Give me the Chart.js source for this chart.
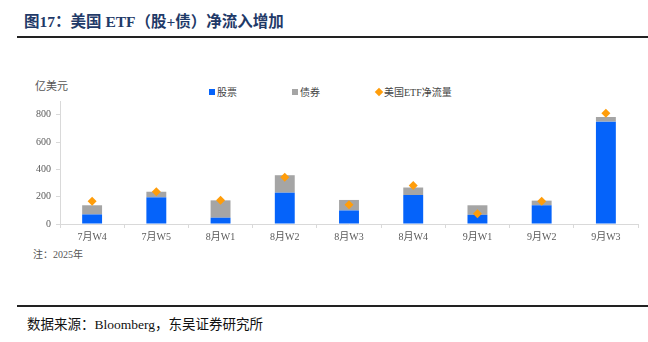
<!DOCTYPE html>
<html>
<head>
<meta charset="utf-8">
<script src="https://cdn.jsdelivr.net/npm/chart.js@4"></script>
<style>
  body { margin:0; width:648px; height:342px; background:#fff; position:relative; overflow:hidden; font-family:'Liberation Serif','Noto Sans CJK SC',serif; }
  #title { position:absolute; left:24px; top:9px; font-size:15.5px; font-weight:bold; color:#1f3a68; }
  .rule { position:absolute; left:17px; right:0; height:2px; background:#222; }
  #unit { position:absolute; left:35px; top:77px; font-size:11px; color:#555; }
  #legend { position:absolute; top:84px; left:209px; font-size:10px; color:#444; white-space:nowrap; }
  #legend span { position:absolute; top:0; }
  #legend i { display:inline-block; width:6px; height:6px; margin-right:2px; vertical-align:1px; }
  #note { position:absolute; left:33px; top:246px; font-size:10px; color:#555; }
  #src { position:absolute; left:27px; top:313px; font-size:13.5px; color:#111; }
  #box { position:absolute; left:0; top:90px; width:648px; height:156px; }
</style>
</head>
<body>
<div id="title">图17：美国 ETF（股+债）净流入增加</div>
<div class="rule" style="top:36px"></div>
<div id="unit">亿美元</div>
<div id="legend"></div>
<div id="box"><canvas id="c"></canvas></div>
<div id="note">注：2025年</div>
<div class="rule" style="top:305px"></div>
<div id="src">数据来源：Bloomberg，东吴证券研究所</div>
<script>
// 주간 데이터 (亿美元)
const weeks = ["7月W4","7月W5","8月W1","8月W2","8月W3","8月W4","9月W1","9月W2","9月W3"]
const stocks = [70, 195, 46, 229, 99, 212, 67, 137, 749]
const bonds = [67, 41, 127, 128, 77, 55, 70, 34, 34]
const netFlow = [166, 236, 173, 342, 140, 282, 75, 166, 810]
const yTicks = [0, 200, 400, 600, 800]

const serif = "'Liberation Serif','Noto Sans CJK SC',serif"

const chart = new Chart(document.getElementById("c"), {
  data: {
    labels: weeks,
    datasets: [
      { type:'bar', label:'股票', data:stocks, backgroundColor:'#0563fa', stack:'etf', order:1,
        barPercentage:0.31, categoryPercentage:1 },
      { type:'bar', label:'债券', data:bonds, backgroundColor:'#a5a5a5', stack:'etf', order:1,
        barPercentage:0.31, categoryPercentage:1 },
      { type:'line', label:'美国ETF净流量', data:netFlow, stack:'net', order:0, showLine:false,
        pointStyle:'rectRot', pointRadius:4.5, pointHoverRadius:4.5,
        backgroundColor:'#ff9d0a', borderColor:'#ff9d0a', borderWidth:0 }
    ]
  },
  options: {
    responsive: true,
    maintainAspectRatio: false,
    animation: false,
    layout: { padding: { left: 31, right: 10, top: 0, bottom: 0 } },
    plugins: {
      tooltip: { enabled:false },
      legend: { display:false }
    },
    scales: {
      x: {
        stacked:true,
        border:{ color:'#d9d9d9' },
        grid:{ display:true, drawOnChartArea:false, offset:true, tickLength:4, color:'#d9d9d9' },
        ticks:{ color:'#595959', font:{ family:serif, size:10 }, padding:3 }
      },
      y: {
        stacked:true, min:0, max:900,
        border:{ color:'#d9d9d9' },
        grid:{ display:true, drawOnChartArea:false, tickLength:4, color:'#d9d9d9' },
        afterBuildTicks: axis => { axis.ticks = yTicks.map(v => ({ value:v })) },
        ticks:{ color:'#595959', font:{ family:serif, size:10 }, padding:5 }
      }
    }
  }
})

// 범례
const legendX = [0, 83, 167]
const legendBox = document.getElementById("legend")
chart.data.datasets.forEach((ds, i) => {
  const mark = ds.type === 'line'
    ? `<i style="background:${ds.backgroundColor};transform:rotate(45deg)"></i>`
    : `<i style="background:${ds.backgroundColor}"></i>`
  legendBox.innerHTML += `<span style="left:${legendX[i]}px">${mark}${ds.label}</span>`
})
</script>
</body>
</html>
